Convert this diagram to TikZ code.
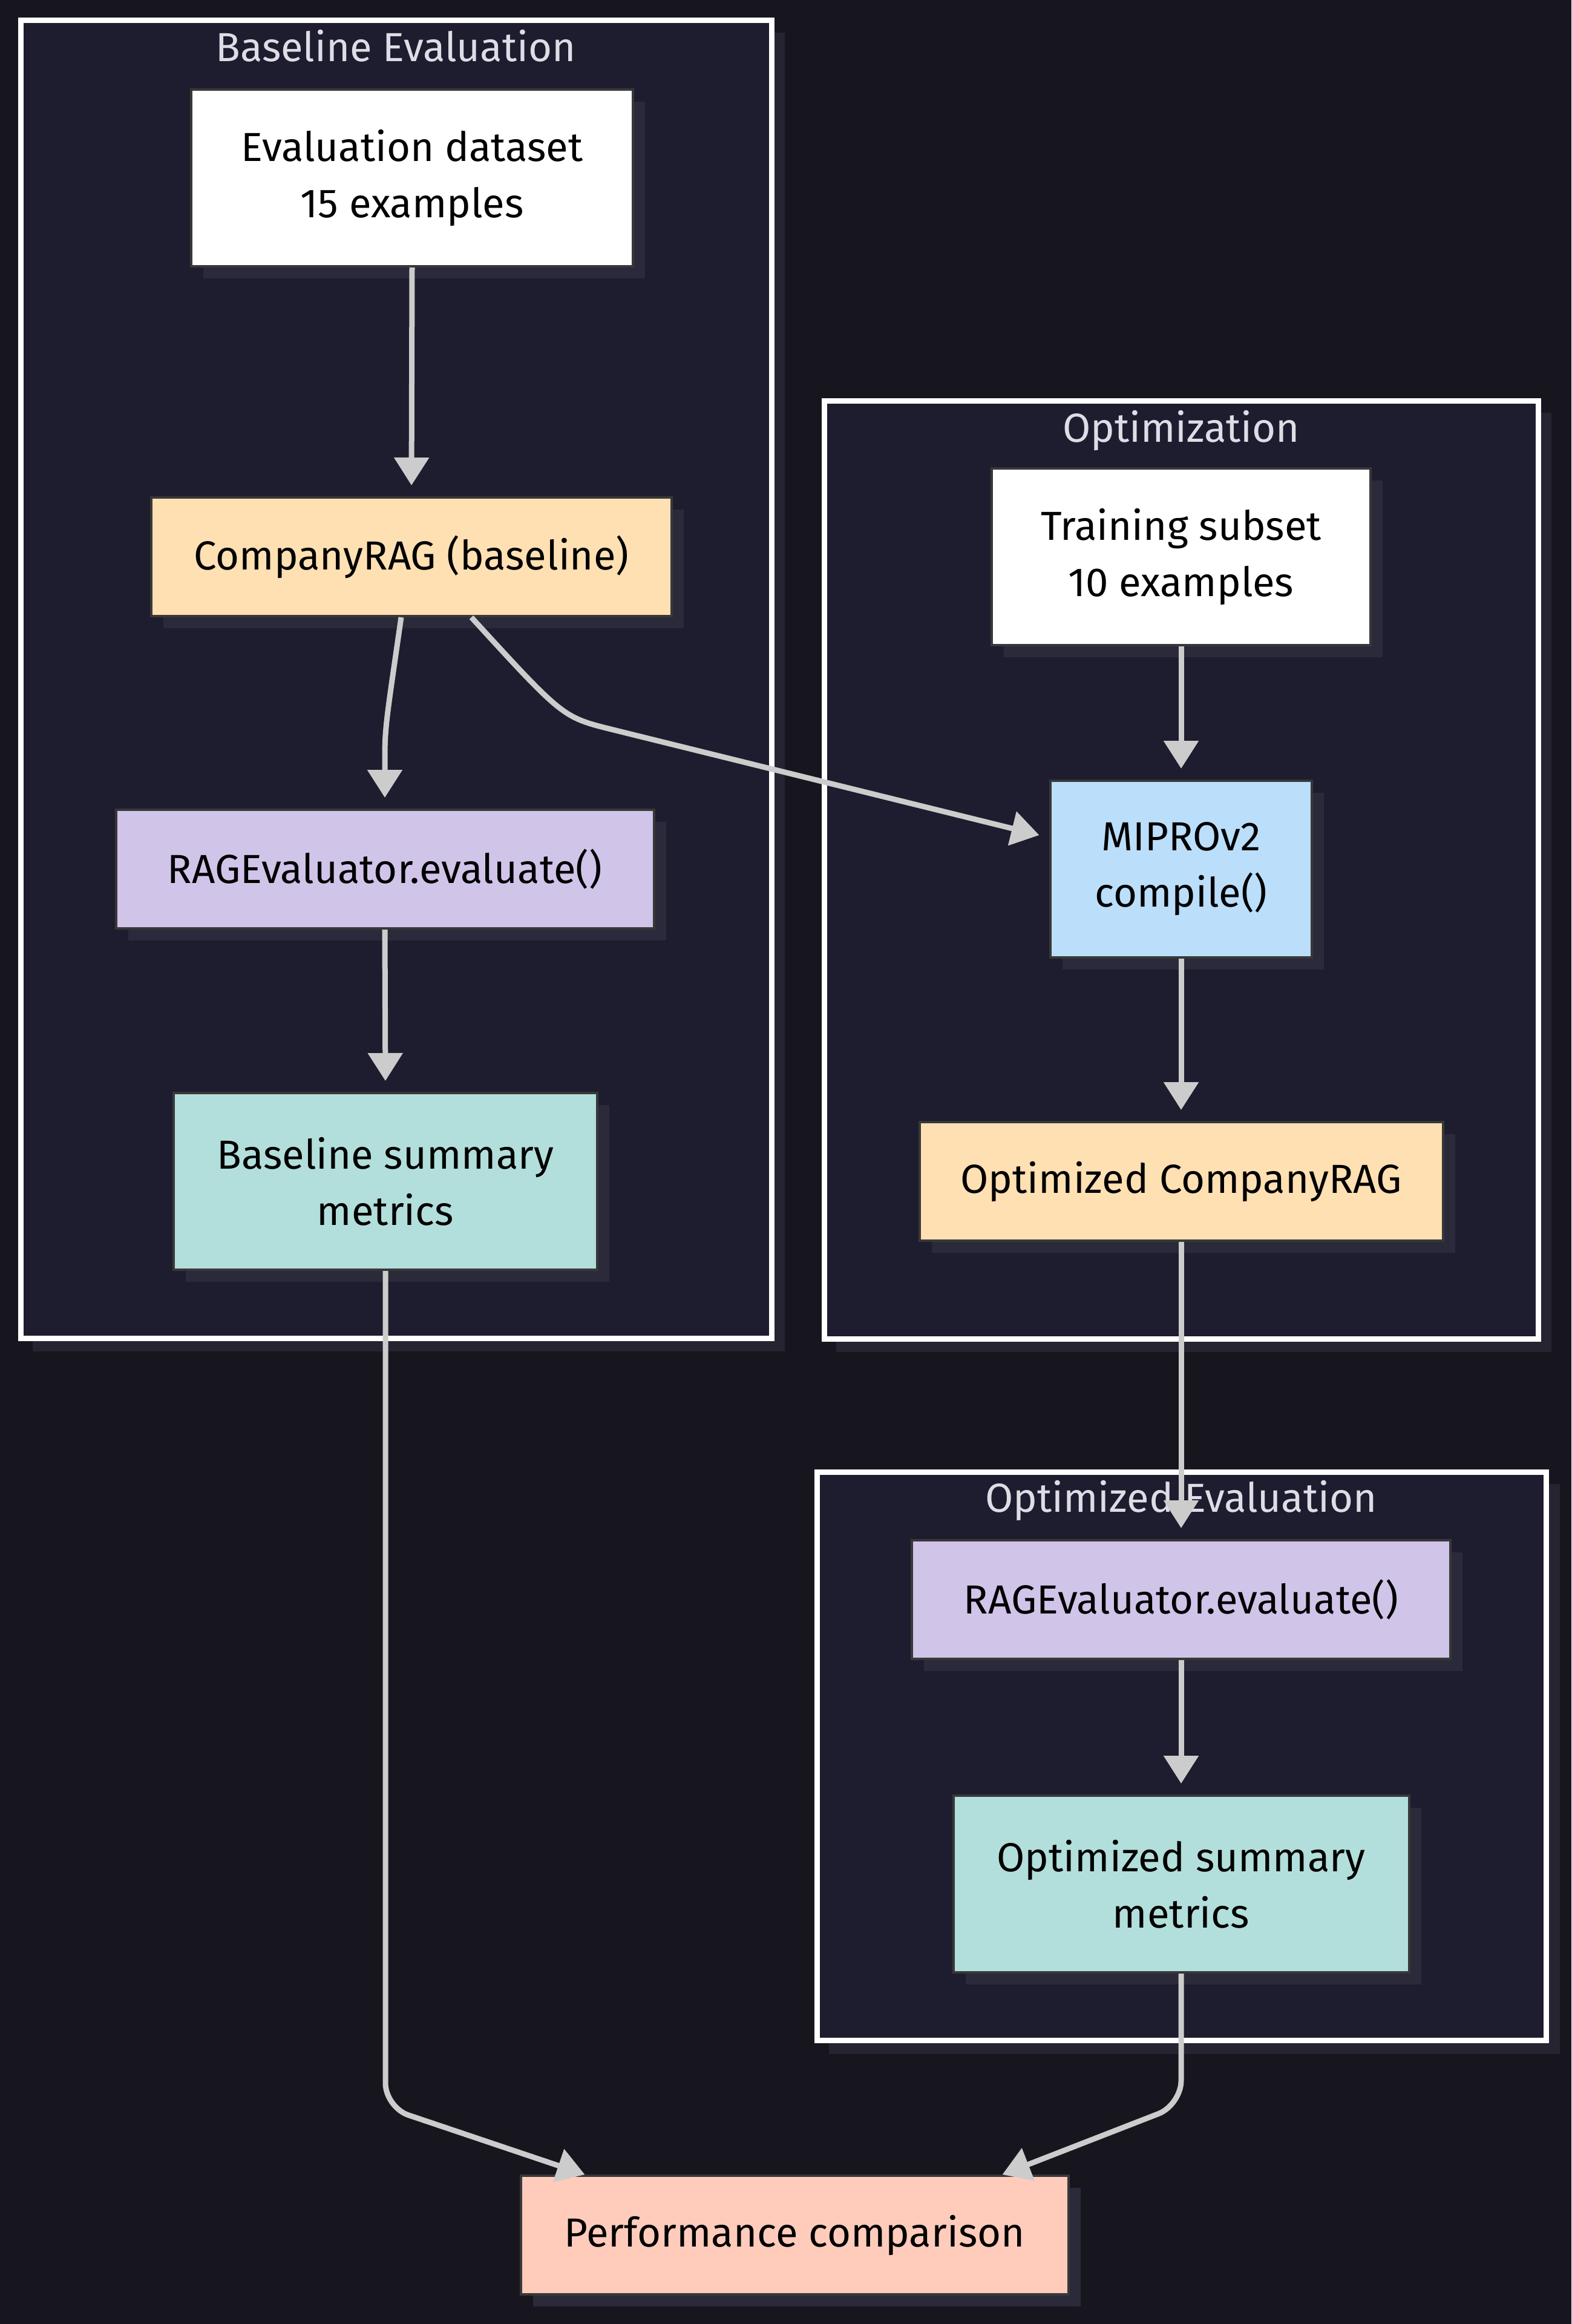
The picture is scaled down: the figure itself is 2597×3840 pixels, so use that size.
\documentclass[tikz,border=0pt]{standalone}
\usepackage{fontspec}
\setmainfont{Fira Sans}
\usetikzlibrary{arrows.meta,shadows}
\definecolor{bgc}{HTML}{17161F}
\definecolor{clc}{HTML}{1E1D2F}
\definecolor{shc}{HTML}{2B2A3B}
\definecolor{clsh}{HTML}{252430}
\definecolor{edgec}{HTML}{CCCCCC}
\definecolor{nodeb}{HTML}{383838}
\definecolor{titc}{HTML}{DEDDE6}
\definecolor{cwhite}{HTML}{FFFFFF}
\definecolor{cpeach}{HTML}{FFE0B2}
\definecolor{clav}{HTML}{D1C4E9}
\definecolor{cteal}{HTML}{B2DFDB}
\definecolor{cblue}{HTML}{BBDEFB}
\definecolor{csalmon}{HTML}{FFCCBC}
\tikzset{
  box/.style={draw=nodeb, line width=4pt, inner sep=0pt, align=center, text=black,
    font=\fontsize{67}{93}\selectfont,
    drop shadow={shadow xshift=20pt, shadow yshift=-20pt, fill=shc, opacity=1}},
  onel/.style={box, minimum height=196pt},
  twol/.style={box, minimum height=292pt},
  cluster/.style={fill=clc, draw=white, line width=9pt},
  clshadow/.style={fill=clsh},
  ctitle/.style={text=titc, font=\fontsize{67}{80}\selectfont, anchor=base, inner sep=0pt},
  edge/.style={draw=edgec, line width=9pt, -{Triangle[length=46pt,width=56pt]}},
}
\begin{document}
\begin{tikzpicture}[x=1pt,y=-1pt]
\fill[bgc] (0,0) rectangle (2597,3840);
\useasboundingbox (0,0) rectangle (2597,3840);
% clusters
\fill[clshadow] (54,54) rectangle (1297,2233);
\draw[cluster] (34,34) rectangle (1275,2211);
\fill[clshadow] (1382,682) rectangle (2564,2234);
\draw[cluster] (1362,662) rectangle (2542,2212);
\fill[clshadow] (1370,2452) rectangle (2578,3394);
\draw[cluster] (1350,2432) rectangle (2555,3371);
\node[ctitle] (t1) at (654,102) {Baseline Evaluation};
\node[ctitle] (t2) at (1952,730) {Optimization};
\node[ctitle] (t3) at (1952,2498) {Optimized Evaluation};
% nodes
\node[twol, fill=cwhite, minimum width=730pt] (ed) at (681,294) {Evaluation dataset\\15 examples};
\node[onel, fill=cpeach, minimum width=860pt] (crb) at (680,920) {CompanyRAG (baseline)};
\node[onel, fill=clav, minimum width=889pt] (rev1) at (636,1436) {RAGEvaluator.evaluate()};
\node[twol, fill=cteal, minimum width=700pt] (bsm) at (637,1952) {Baseline summary\\metrics};
\node[twol, fill=cwhite, minimum width=626pt] (ts) at (1952,920) {Training subset\\10 examples};
\node[twol, fill=cblue, minimum width=432pt] (mip) at (1952,1436) {MIPROv2\\compile()};
\node[onel, fill=cpeach, minimum width=865pt] (ocr) at (1952,1952) {Optimized CompanyRAG};
\node[onel, fill=clav, minimum width=890pt] (rev2) at (1952,2643) {RAGEvaluator.evaluate()};
\node[twol, fill=cteal, minimum width=753pt] (osm) at (1952,3113) {Optimized summary\\metrics};
\node[onel, fill=csalmon, minimum width=905pt] (pc) at (1313,3693) {Performance comparison};
% bend coordinates
\coordinate (c2a) at (640,1180);
\coordinate (c2b) at (636,1200);
\coordinate (c2c) at (636,1250);
\coordinate (c3a) at (930,1185);
\coordinate (c3b) at (1010,1205);
\coordinate (c8) at (637,3482);
\coordinate (c9) at (1952,3478);
% edges
\draw[edge, shorten >=18pt] (ed.south) -- (crb.north);
\draw[edge, shorten >=18pt] ([shift={(-17,0)}]crb.south) .. controls (c2a) and (c2b) .. (c2c) -- (rev1.north);
\draw[edge, shorten >=17pt] ([shift={(99,0)}]crb.south) .. controls (c3a) .. (c3b) -- ([shift={(0,-52)}]mip.west);
\draw[edge, shorten >=18pt] (rev1.south) -- (bsm.north);
\draw[edge, shorten >=18pt] (ts.south) -- (mip.north);
\draw[edge, shorten >=18pt] (mip.south) -- (ocr.north);
\draw[edge, shorten >=18pt] (ocr.south) -- (rev2.north);
\draw[edge, shorten >=18pt] (rev2.south) -- (osm.north);
\draw[edge, rounded corners=40pt] (bsm.south) -- (c8) -- ([shift={(108,0)}]pc.north west);
\draw[edge, rounded corners=40pt] (osm.south) -- (c9) -- ([shift={(-111,0)}]pc.north east);
\end{tikzpicture}
\end{document}
